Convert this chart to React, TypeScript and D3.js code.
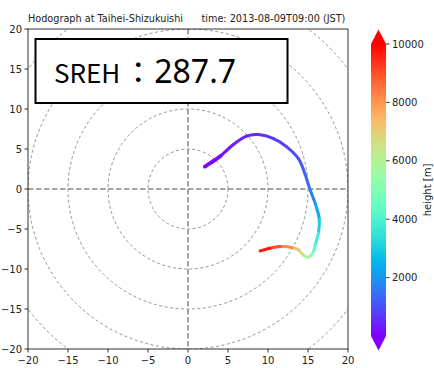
import { useMemo } from 'react';
import { scaleLinear, range } from 'd3';

// hodograph: wind components (m/s) and height (m)
const U = [2.1, 3.1, 4.1, 5.6, 7.3, 8.8, 10.7, 12.3, 13.8, 14.6, 15.2, 15.9, 16.4, 16.3, 15.9, 15.6, 15.0, 14.4, 13.8, 13.0, 11.5, 10.25, 9.0];
const V = [2.8, 3.45, 4.15, 5.5, 6.6, 6.8, 6.3, 5.3, 3.8, 1.95, 0.08, -1.8, -3.7, -5.5, -7.0, -8.0, -8.5, -8.25, -7.6, -7.3, -7.2, -7.4, -7.75];
const HEIGHTS = [0, 80, 180, 300, 420, 550, 700, 850, 1000, 1200, 1450, 1900, 2600, 3400, 4200, 4800, 5500, 6200, 7000, 7700, 8700, 9400, 10000];

const AX_TICKS = [-20, -15, -10, -5, 0, 5, 10, 15, 20];
const RINGS = [5, 10, 15, 20, 25];
const CB_TICKS = [2000, 4000, 6000, 8000, 10000];
const TITLE = 'Hodograph at Taihei-Shizukuishi      time: 2013-08-09T09:00 (JST)';
const SREH_LABEL = 'SREH';
const SREH_VALUE = '287.7';

const W = 434;
const H = 368;
const PL = 28, PR = 348, PT = 29, PB = 349;
const CB = { x: 371, w: 15, top: 44, bottom: 336 };
const FONT = 'DejaVu Sans, sans-serif';

// matplotlib "rainbow"
function rainbow(t: number) {
  const c = (v: number) => Math.round(255 * Math.max(0, Math.min(1, v)));
  return `rgb(${c(Math.abs(2 * t - 0.5))},${c(Math.sin(Math.PI * t))},${c(Math.cos((Math.PI * t) / 2))})`;
}

export default function App() {
  const x = scaleLinear().domain([-20, 20]).range([PL, PR]);
  const y = scaleLinear().domain([-20, 20]).range([PB, PT]);
  const hc = scaleLinear().domain([0, 10000]).range([CB.bottom, CB.top]);
  const r = (d: number) => x(d) - x(0);

  // one smooth (catmull-rom) piece per segment, coloured by mean height
  const segs = useMemo(() => {
    const P = U.map((u, i) => [x(u), y(V[i])]);
    const n = P.length;
    return range(n - 1).map((i) => {
      const p0 = P[Math.max(0, i - 1)], p1 = P[i], p2 = P[i + 1], p3 = P[Math.min(n - 1, i + 2)];
      const c1 = [p1[0] + (p2[0] - p0[0]) / 6, p1[1] + (p2[1] - p0[1]) / 6];
      const c2 = [p2[0] - (p3[0] - p1[0]) / 6, p2[1] - (p3[1] - p1[1]) / 6];
      return {
        d: `M${p1[0]},${p1[1]}C${c1[0]},${c1[1]} ${c2[0]},${c2[1]} ${p2[0]},${p2[1]}`,
        c: rainbow((HEIGHTS[i] + HEIGHTS[i + 1]) / 2 / 10000),
        w: i < 2 ? 3.8 : 3,
      };
    });
  }, []);

  const stops = range(0, 1.0001, 0.05);
  const ext = (CB.bottom - CB.top) * 0.05;

  return (
    <div style={{ position: 'fixed', left: 0, top: 0, background: '#fff' }}>
      <svg width={W} height={H} style={{ display: 'block' }}>
        <defs>
          <clipPath id="ax">
            <rect x={PL} y={PT} width={PR - PL} height={PB - PT} />
          </clipPath>
          <linearGradient id="cb" x1="0" y1="1" x2="0" y2="0">
            {stops.map((s) => (
              <stop key={s} offset={s} stopColor={rainbow(s)} />
            ))}
          </linearGradient>
        </defs>
        <rect width={W} height={H} fill="#fff" />
        <text x={PL} y={22} fontSize={9.7} fontFamily={FONT} fill="#222" style={{ whiteSpace: 'pre' }}>
          {TITLE}
        </text>

        <g clipPath="url(#ax)">
          {RINGS.map((d) => (
            <circle key={d} cx={x(0)} cy={y(0)} r={r(d)} fill="none" stroke="#777" strokeWidth={0.8} strokeDasharray="3,2.5" />
          ))}
          <line x1={x(0)} x2={x(0)} y1={PT} y2={PB} stroke="#888" strokeWidth={1.5} strokeDasharray="5.5,2.5" />
          <line x1={PL} x2={PR} y1={y(0)} y2={y(0)} stroke="#888" strokeWidth={1.5} strokeDasharray="5.5,2.5" />
          {segs.map((s, i) => (
            <path key={i} d={s.d} stroke={s.c} strokeWidth={s.w} strokeLinecap="round" fill="none" />
          ))}
        </g>

        <rect x={PL} y={PT} width={PR - PL} height={PB - PT} fill="none" stroke="#000" strokeWidth={0.8} />

        {AX_TICKS.map((t) => (
          <g key={'x' + t}>
            <line x1={x(t)} x2={x(t)} y1={PB} y2={PB + 3.5} stroke="#000" strokeWidth={0.8} />
            <text x={x(t)} y={PB + 15} textAnchor="middle" fontSize={10} fontFamily={FONT} fill="#222">
              {t < 0 ? '\u2212' + Math.abs(t) : t}
            </text>
            <line x1={PL - 3.5} x2={PL} y1={y(t)} y2={y(t)} stroke="#000" strokeWidth={0.8} />
            <text x={PL - 6} y={y(t) + 3.6} textAnchor="end" fontSize={10} fontFamily={FONT} fill="#222">
              {t < 0 ? '\u2212' + Math.abs(t) : t}
            </text>
          </g>
        ))}

        {/* SREH box */}
        <rect x={35.5} y={39} width={252} height={64} fill="#fff" stroke="#000" strokeWidth={2} />
        <text x={54} y={83} fontFamily="'Noto Sans CJK JP', 'Noto Sans', sans-serif" fill="#000">
          <tspan fontSize={26}>{SREH_LABEL}</tspan>
          <tspan fontSize={30} dx={3}>{'：'}</tspan>
          <tspan fontSize={32} dx={1} fontFamily="'Noto Sans', sans-serif">{SREH_VALUE}</tspan>
        </text>

        {/* colorbar */}
        <path
          d={`M${CB.x},${CB.top} L${CB.x + CB.w / 2},${CB.top - ext} L${CB.x + CB.w},${CB.top} Z`}
          fill={rainbow(1)}
        />
        <path
          d={`M${CB.x},${CB.bottom} L${CB.x + CB.w / 2},${CB.bottom + ext} L${CB.x + CB.w},${CB.bottom} Z`}
          fill={rainbow(0)}
        />
        <rect x={CB.x} y={CB.top} width={CB.w} height={CB.bottom - CB.top} fill="url(#cb)" />
        {CB_TICKS.map((t) => (
          <g key={'c' + t}>
            <line x1={CB.x + CB.w} x2={CB.x + CB.w + 3.5} y1={hc(t)} y2={hc(t)} stroke="#000" strokeWidth={0.8} />
            <text x={CB.x + CB.w + 6} y={hc(t) + 3.6} fontSize={10} fontFamily={FONT} fill="#222">
              {t}
            </text>
          </g>
        ))}
        <text
          transform={`translate(431,${(CB.top + CB.bottom) / 2}) rotate(-90)`}
          textAnchor="middle"
          fontSize={10}
          fontFamily={FONT}
          fill="#222"
        >
          height [m]
        </text>
      </svg>
    </div>
  );
}
